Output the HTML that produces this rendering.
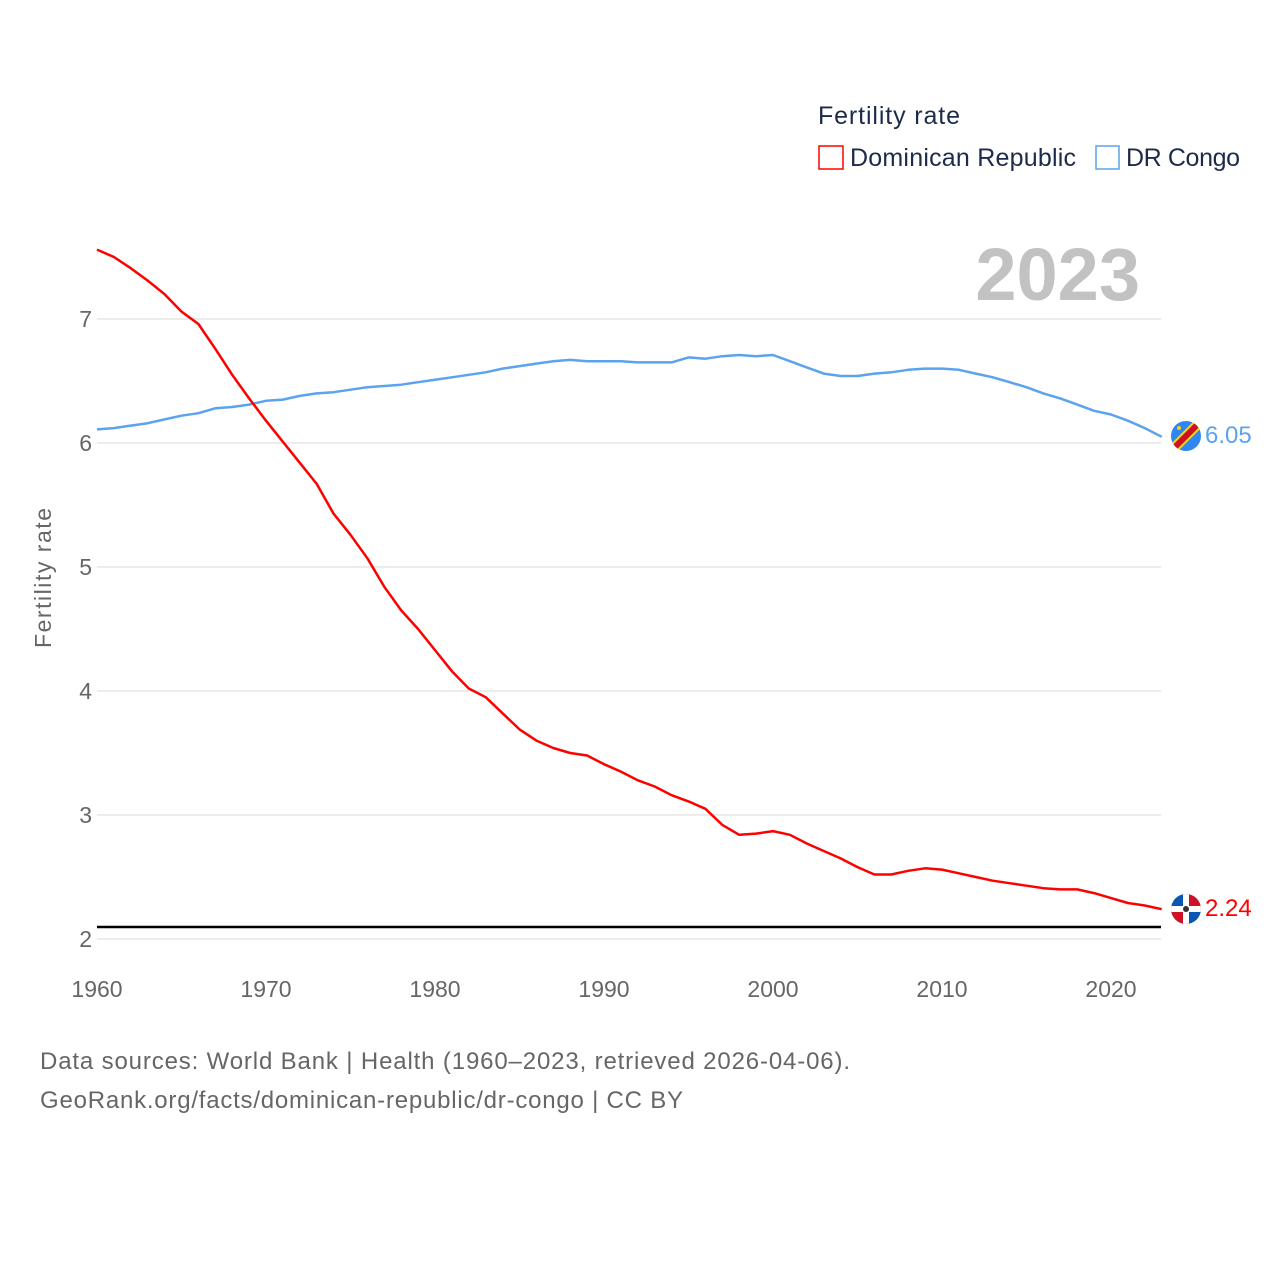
<!DOCTYPE html>
<html><head><meta charset="utf-8"><style>
html,body{margin:0;padding:0;background:#fff;}
svg{display:block;font-family:"Liberation Sans",sans-serif;}
</style></head><body>
<svg id="chart" width="1280" height="1280" viewBox="0 0 1280 1280">
<text x="818" y="124" font-size="25" fill="#1c2b4a" textLength="142">Fertility rate</text>
<g>
<rect x="819" y="146" width="24" height="23" fill="none" stroke="#ff0000" stroke-width="1.5"/>
<text x="850" y="166" font-size="25" fill="#1c2b4a" textLength="226">Dominican Republic</text></g>
<g>
<rect x="1096" y="146" width="23" height="23" fill="none" stroke="#5ba3ee" stroke-width="1.5"/>
<text x="1126" y="166" font-size="25" fill="#1c2b4a" textLength="114">DR Congo</text></g>
<text x="1140" y="300" font-size="74" font-weight="bold" fill="#c2c2c2" text-anchor="end">2023</text>
<text transform="translate(51,578) rotate(-90)" font-size="23" fill="#666" text-anchor="middle" textLength="140">Fertility rate</text>
<g id="grid"></g><g id="yticks"></g><g id="xticks"></g><g id="lines"></g>
<line x1="97" x2="1161" y1="927" y2="927" stroke="#000" stroke-width="2.5"/>
<g>
<clipPath id="c1"><circle cx="1186" cy="436" r="15"/></clipPath>
<g clip-path="url(#c1)"><rect x="1170" y="420" width="32" height="32" fill="#2f86f0"/>
<line x1="1168" y1="454" x2="1204" y2="418" stroke="#f7d618" stroke-width="10"/>
<line x1="1168" y1="454" x2="1204" y2="418" stroke="#ce1021" stroke-width="6"/>
<circle cx="1179" cy="428" r="2" fill="#f7d618"/></g></g>
<text x="1205" y="443" font-size="24" fill="#5ba3ee">6.05</text>
<g>
<clipPath id="c2"><circle cx="1186" cy="909" r="15"/></clipPath>
<g clip-path="url(#c2)"><rect x="1170" y="893" width="16" height="16" fill="#0b55b5"/><rect x="1186" y="893" width="16" height="16" fill="#ce1126"/>
<rect x="1170" y="909" width="16" height="16" fill="#ce1126"/><rect x="1186" y="909" width="16" height="16" fill="#0b55b5"/>
<rect x="1183" y="893" width="6" height="32" fill="#fff"/><rect x="1170" y="906" width="32" height="6" fill="#fff"/>
<circle cx="1186" cy="909" r="3" fill="#333"/></g></g>
<text x="1205" y="916" font-size="24" fill="#ff0000">2.24</text>
<text x="40" y="1069" font-size="24" fill="#666" textLength="810">Data sources: World Bank | Health (1960–2023, retrieved 2026-04-06).</text>
<text x="40" y="1108" font-size="24" fill="#666" textLength="643">GeoRank.org/facts/dominican-republic/dr-congo | CC BY</text>
</svg>
<script>
const years=[];for(let y=1960;y<=2023;y++)years.push(y);
const domRep=[7.56,7.50,7.41,7.31,7.20,7.06,6.96,6.76,6.55,6.36,6.18,6.01,5.84,5.67,5.43,5.26,5.07,4.84,4.65,4.50,4.33,4.16,4.02,3.95,3.82,3.69,3.60,3.54,3.50,3.48,3.41,3.35,3.28,3.23,3.16,3.11,3.05,2.92,2.84,2.85,2.87,2.84,2.77,2.71,2.65,2.58,2.52,2.52,2.55,2.57,2.56,2.53,2.50,2.47,2.45,2.43,2.41,2.40,2.40,2.37,2.33,2.29,2.27,2.24];
const drCongo=[6.11,6.12,6.14,6.16,6.19,6.22,6.24,6.28,6.29,6.31,6.34,6.35,6.38,6.40,6.41,6.43,6.45,6.46,6.47,6.49,6.51,6.53,6.55,6.57,6.60,6.62,6.64,6.66,6.67,6.66,6.66,6.66,6.65,6.65,6.65,6.69,6.68,6.70,6.71,6.70,6.71,6.66,6.61,6.56,6.54,6.54,6.56,6.57,6.59,6.60,6.60,6.59,6.56,6.53,6.49,6.45,6.40,6.36,6.31,6.26,6.23,6.18,6.12,6.05];
const yTicks=[2,3,4,5,6,7];
const xTicks=[1960,1970,1980,1990,2000,2010,2020];
const NS="http://www.w3.org/2000/svg";
const xs=y=>97+(y-1960)*(1014/60);
const ys=v=>939-(v-2)*124;
const grid=document.getElementById('grid'),yt=document.getElementById('yticks'),xt=document.getElementById('xticks'),lines=document.getElementById('lines');
yTicks.forEach(t=>{
 const l=document.createElementNS(NS,'line');
 l.setAttribute('x1',97);l.setAttribute('x2',1161);l.setAttribute('y1',ys(t));l.setAttribute('y2',ys(t));
 l.setAttribute('stroke','#e6e6e6');l.setAttribute('stroke-width','1.5');
 
 
 grid.appendChild(l);
 const tx=document.createElementNS(NS,'text');
 tx.setAttribute('x',92);tx.setAttribute('y',ys(t)+8);tx.setAttribute('text-anchor','end');
 tx.setAttribute('font-size','23');tx.setAttribute('fill','#666');tx.textContent=t;
 
 
 yt.appendChild(tx);
});
xTicks.forEach(t=>{
 const tx=document.createElementNS(NS,'text');
 tx.setAttribute('x',xs(t));tx.setAttribute('y',997);tx.setAttribute('text-anchor','middle');
 tx.setAttribute('font-size','23');tx.setAttribute('fill','#666');tx.textContent=t;
 
 
 xt.appendChild(tx);
});
function draw(vals,color,name){
 const p=document.createElementNS(NS,'polyline');
 p.setAttribute('points',vals.map((v,i)=>xs(years[i]).toFixed(1)+','+ys(v).toFixed(1)).join(' '));
 p.setAttribute('fill','none');p.setAttribute('stroke',color);p.setAttribute('stroke-width','2.5');
 p.setAttribute('stroke-linejoin','round');
 
 
 lines.appendChild(p);
}
draw(drCongo,'#5ba3ee','line-dr-congo');
draw(domRep,'#ff0000','line-dominican-republic');
</script>
</body></html>
